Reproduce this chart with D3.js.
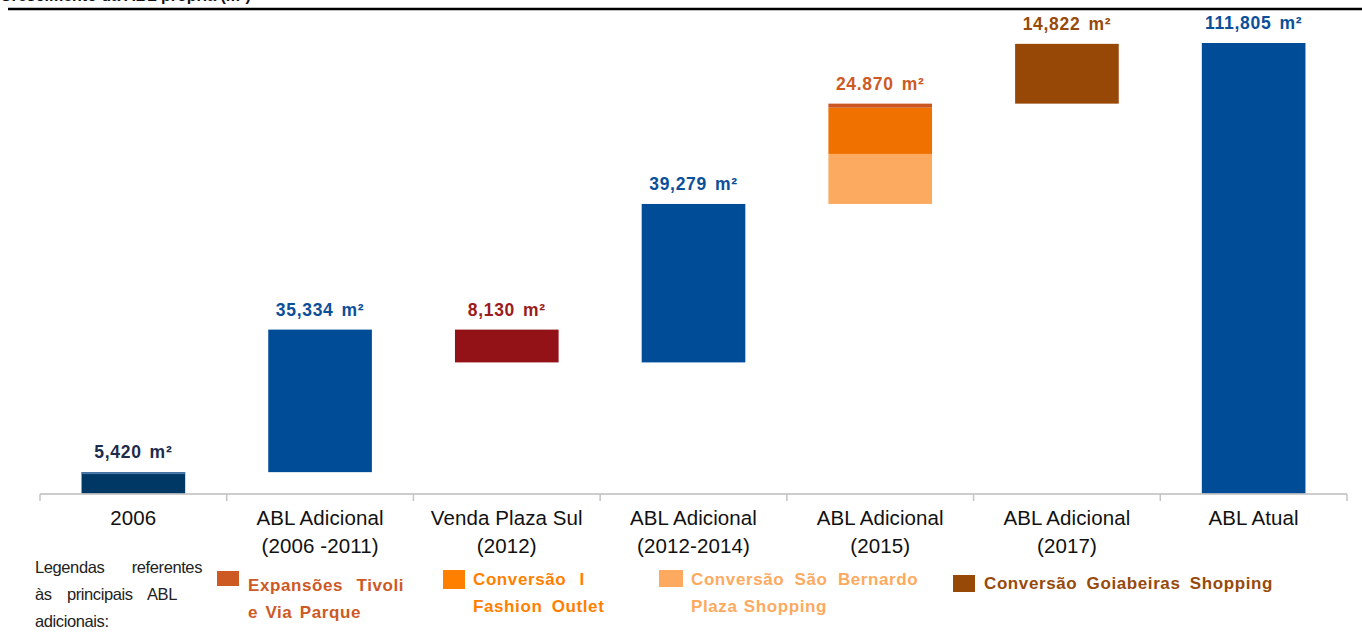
<!DOCTYPE html>
<html>
<head>
<meta charset="utf-8">
<script src="https://cdn.jsdelivr.net/npm/d3@7"></script>
<style>
  body { margin: 0; background: #fff; }
  svg { display: block; font-family: "Liberation Sans", Arial, sans-serif; }
</style>
</head>
<body>
<div id="chart"></div>
<script>
// categories on the x axis (two lines each)
var categories = ["2006", "ABL Adicional|(2006 -2011)", "Venda Plaza Sul|(2012)",
                  "ABL Adicional|(2012-2014)", "ABL Adicional|(2015)",
                  "ABL Adicional|(2017)", "ABL Atual"];

// waterfall steps (m²), negative = sale, last one is the total
var steps = [5420, 35334, -8130, 39279, 24870, 14822, 111805];
var stepLabels = ["5,420 m²", "35,334 m²", "8,130 m²", "39,279 m²", "24.870 m²", "14,822 m²", "111,805 m²"];
var stepColors = ["#003865", "#004c97", "#931218", "#004c97", null, "#974706", "#004c97"];
var labelColors = ["#1d2c4c", "#0b4f9a", "#9b1b20", "#0b4f9a", "#cd5a25", "#974a0b", "#0b4f9a"];

// 2015 split (bottom to top)
var parts2015 = ["Conversão São Bernardo Plaza Shopping", "Conversão I Fashion Outlet", "Expansões Tivoli e Via Parque"];
var values2015 = [12400, 11470, 1000];
var colors2015 = ["#fbaa60", "#f07000", "#c9571f"];

// legend
var legendLines = [["Expansões Tivoli", "e Via Parque"], ["Conversão I", "Fashion Outlet"],
                   ["Conversão São Bernardo", "Plaza Shopping"], ["Conversão Goiabeiras Shopping"]];
var legendColors = ["#cc5a22", "#ff8000", "#fdaa60", "#974a07"];
var legendTextColors = ["#cd5a25", "#ff8000", "#fdaa60", "#974a0b"];

var width = 1362, height = 633;
var svg = d3.select("#chart").append("svg").attr("width", width).attr("height", height);

// title (mostly cut off at top, as in the source) and rule
svg.append("text").attr("x", 0).attr("y", 1)
   .attr("font-weight", "bold").attr("font-size", 16).attr("fill", "#111")
   .text("Crescimento da ABL própria (m²)");
svg.append("line").attr("x1", 8).attr("x2", width).attr("y1", 9).attr("y2", 9)
   .attr("stroke", "#000").attr("stroke-width", 2.6);

var x = d3.scaleBand().domain(categories).range([40, 1347]).padding(0);
var y = d3.scaleLinear().domain([0, 111805]).range([494, 43]);
var barW = x.bandwidth() * 0.555;
var bx = function(c) { return x(c) + (x.bandwidth() - barW) / 2; };

// build start/end per step
var bars = [];
var run = 0;
steps.forEach(function(v, i) {
  var last = i === steps.length - 1;
  var s = last ? 0 : run, e = last ? v : run + v;
  if (!last) run += v;
  bars.push({ cat: categories[i], lo: Math.min(s, e), hi: Math.max(s, e), color: stepColors[i], i: i });
});

var g = svg.append("g");
bars.forEach(function(b) {
  if (b.color) {
    g.append("rect").attr("x", bx(b.cat)).attr("width", barW)
     .attr("y", y(b.hi)).attr("height", y(b.lo) - y(b.hi)).attr("fill", b.color);
  } else {
    var acc = b.lo;
    values2015.forEach(function(v, k) {
      g.append("rect").attr("x", bx(b.cat)).attr("width", barW)
       .attr("y", y(acc + v)).attr("height", y(acc) - y(acc + v)).attr("fill", colors2015[k]);
      acc += v;
    });
  }
  g.append("text").attr("x", x(b.cat) + x.bandwidth() / 2).attr("y", y(b.hi) - 14)
   .attr("text-anchor", "middle").attr("font-weight", "bold").attr("font-size", 17.5)
   .attr("word-spacing", 2.5).attr("letter-spacing", 0.7)
   .attr("fill", labelColors[b.i]).text(stepLabels[b.i]);
});
// light line on top of 2006 bar
g.append("rect").attr("x", bx(categories[0])).attr("width", barW)
 .attr("y", y(steps[0])).attr("height", 2).attr("fill", "#4a78a8");

// axis
var axisG = svg.append("g").attr("transform", "translate(0,494)");
axisG.append("line").attr("x1", 40).attr("x2", 1347).attr("y1", 0).attr("y2", 0)
     .attr("stroke", "#c4c4c4").attr("stroke-width", 2).attr("stroke-opacity", 0.85);
var ticks = categories.map(function(c) { return x(c); }).concat([1347]);
axisG.selectAll(".tk").data(ticks).enter().append("line")
     .attr("x1", function(d) { return d; }).attr("x2", function(d) { return d; })
     .attr("y1", 0).attr("y2", 7).attr("stroke", "#c4c4c4").attr("stroke-width", 1.5);
categories.forEach(function(c) {
  var t = axisG.append("text").attr("x", x(c) + x.bandwidth() / 2).attr("y", 31)
     .attr("text-anchor", "middle").attr("font-size", 20.5).attr("letter-spacing", 0.1)
     .attr("fill", "#111");
  c.split("|").forEach(function(line, k) {
    t.append("tspan").attr("x", x(c) + x.bandwidth() / 2).attr("dy", k ? 28 : 0).text(line);
  });
});

// legend intro text
var intro = [["Legendas referentes", 573, 167], ["às principais ABL", 600, 142], ["adicionais:", 627, 0]];
intro.forEach(function(l) {
  var t = svg.append("text").attr("x", 35).attr("y", l[1]).attr("font-size", 16.5)
     .attr("letter-spacing", -0.4).attr("fill", "#222").text(l[0]);
  if (l[2]) {
    var w = t.node().getComputedTextLength();
    var gaps = l[0].split(" ").length - 1;
    t.attr("word-spacing", (l[2] - w) / gaps);
  }
});

// legend entries
var legPos = [
  { sx: 217, sy: 571, sw: 22, sh: 15, tx: 248, ty: 591, ws: [8, 2] },
  { sx: 443, sy: 570, sw: 22, sh: 19, tx: 473, ty: 585, ws: [8, 4] },
  { sx: 659, sy: 570, sw: 24, sh: 17, tx: 691, ty: 585, ws: [5, 1] },
  { sx: 953, sy: 575, sw: 22, sh: 17, tx: 984, ty: 589, ws: [4] }
];
legendLines.forEach(function(lines, i) {
  var p = legPos[i];
  svg.append("rect").attr("x", p.sx).attr("y", p.sy).attr("width", p.sw).attr("height", p.sh)
     .attr("fill", legendColors[i]);
  lines.forEach(function(line, k) {
    svg.append("text").attr("x", p.tx).attr("y", p.ty + k * 27)
       .attr("font-weight", "bold").attr("font-size", 17).attr("letter-spacing", 0.6)
       .attr("word-spacing", p.ws[k])
       .attr("fill", legendTextColors[i]).text(line);
  });
});
</script>
</body>
</html>
